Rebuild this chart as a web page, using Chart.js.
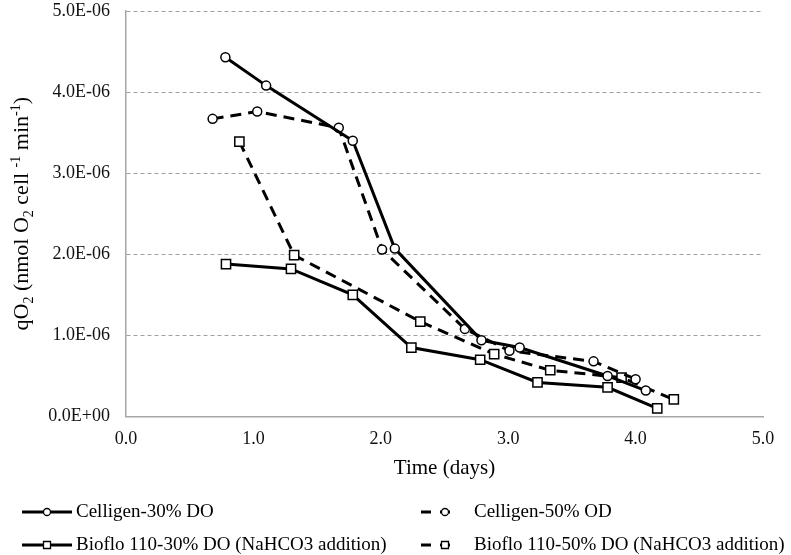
<!DOCTYPE html>
<html lang="en">
<head>
  <meta charset="UTF-8" />
  <title>qO2 vs time</title>
  <style>
    body {
      margin: 0;
      padding: 0;
      background: #fff;
    }
    #wrap {
      width: 791px;
      height: 555px;
    }
  </style>
</head>
<body>
  <div id="wrap">
    <canvas id="chart" width="791" height="555"></canvas>
  </div>

  <script src="https://cdn.jsdelivr.net/npm/chart.js"></script>
  <script>
    // values, qO2 in units of 1E-06
    const seriesNames = [
      "Celligen-30% DO",
      "Celligen-50% OD",
      "Bioflo 110-30% DO (NaHCO3 addition)",
      "Bioflo 110-50% DO (NaHCO3 addition)"
    ];

    const daysC30 = [0.78, 1.10, 1.78, 2.11, 2.79, 3.09, 3.78, 4.08];
    const qo2C30  = [4.43, 4.08, 3.40, 2.07, 0.94, 0.85, 0.50, 0.32];

    const daysC50 = [0.68, 1.03, 1.67, 2.01, 2.66, 3.01, 3.67, 4.00];
    const qo2C50  = [3.67, 3.76, 3.56, 2.06, 1.08, 0.81, 0.68, 0.46];

    const daysB30 = [0.785, 1.295, 1.78, 2.24, 2.78, 3.23, 3.78, 4.17];
    const qo2B30  = [1.88, 1.82, 1.50, 0.85, 0.70, 0.42, 0.36, 0.10];

    const daysB50 = [0.89, 1.32, 2.31, 2.89, 3.33, 3.89, 4.30];
    const qo2B50  = [3.39, 1.99, 1.17, 0.77, 0.57, 0.48, 0.21];

    const xTicks = [0, 1, 2, 3, 4, 5];
    const yTicks = [0, 1e-6, 2e-6, 3e-6, 4e-6, 5e-6];

    const FONT = "'Liberation Serif', 'Times New Roman', serif";
    const DASH = [11, 7];

    function toPoints(xs, ys) {
      return xs.map((x, i) => ({ x: x, y: ys[i] * 1e-6 }));
    }

    function sci(v) {
      if (Math.abs(v) < 1e-12) return "0.0E+00";
      const e = Math.floor(Math.log10(Math.abs(v)) + 1e-9);
      const m = v / Math.pow(10, e);
      const ea = Math.abs(e);
      return m.toFixed(1) + "E" + (e < 0 ? "-" : "+") + (ea < 10 ? "0" : "") + ea;
    }

    function makeSet(label, xs, ys, dashed, style) {
      return {
        label: label,
        data: toPoints(xs, ys),
        borderColor: "#000",
        borderWidth: 3,
        borderDash: dashed ? DASH : [],
        pointStyle: style,
        pointRadius: style === "circle" ? 4.5 : 6.5,
        pointHoverRadius: style === "circle" ? 4.5 : 6.5,
        pointBackgroundColor: "#fff",
        pointBorderColor: "#000",
        pointBorderWidth: 1.5,
        tension: 0,
        fill: false
      };
    }

    // y axis title with sub- and superscripts, x title and the legend
    const extras = {
      id: "extras",
      afterDraw(chart) {
        const ctx = chart.ctx;
        const area = chart.chartArea;
        ctx.save();
        ctx.fillStyle = "#000";

        // y title
        const big = "22px " + FONT;
        const small = "14px " + FONT;
        const parts = [
          ["qO", 0], ["2", 1], [" (nmol O", 0], ["2", 1], [" cell ", 0],
          ["-1", -1], [" min", 0], ["-1", -1], [")", 0]
        ];
        let total = 0;
        parts.forEach(p => {
          ctx.font = p[1] === 0 ? big : small;
          total += ctx.measureText(p[0]).width;
        });
        ctx.translate(28, (area.top + area.bottom) / 2);
        ctx.rotate(-Math.PI / 2);
        ctx.textBaseline = "alphabetic";
        let x = -total / 2;
        parts.forEach(p => {
          ctx.font = p[1] === 0 ? big : small;
          const dy = p[1] === 1 ? 5 : (p[1] === -1 ? -8 : 0);
          ctx.fillText(p[0], x, 0 + dy);
          x += ctx.measureText(p[0]).width;
        });
        ctx.setTransform(1, 0, 0, 1, 0, 0);

        // x title
        ctx.font = "21px " + FONT;
        ctx.textAlign = "center";
        ctx.textBaseline = "middle";
        ctx.fillText("Time (days)", (area.left + area.right) / 2, 468);

        // legend
        const rows = [512, 545];
        const items = [
          { ds: 0, x1: 22, x2: 72, tx: 76, y: rows[0] },
          { ds: 1, x1: 421, x2: 451, tx: 474, y: rows[0] },
          { ds: 2, x1: 22, x2: 72, tx: 76, y: rows[1] },
          { ds: 3, x1: 421, x2: 451, tx: 474, y: rows[1] }
        ];
        ctx.textAlign = "left";
        ctx.font = "19px " + FONT;
        items.forEach(it => {
          const ds = chart.data.datasets[it.ds];
          ctx.strokeStyle = "#000";
          ctx.lineWidth = 3;
          ctx.setLineDash(ds.borderDash.length ? [10, 9] : []);
          ctx.beginPath();
          ctx.moveTo(it.x1, it.y);
          ctx.lineTo(it.x2, it.y);
          ctx.stroke();
          ctx.setLineDash([]);
          const cx = ds.borderDash.length ? it.x1 + 24 : (it.x1 + it.x2) / 2;
          ctx.lineWidth = 1.3;
          ctx.fillStyle = "#fff";
          ctx.beginPath();
          if (ds.pointStyle === "circle") {
            ctx.arc(cx, it.y, 3.5, 0, Math.PI * 2);
          } else {
            ctx.rect(cx - 3.5, it.y - 3.5, 7, 7);
          }
          ctx.fill();
          ctx.stroke();
          ctx.fillStyle = "#000";
          ctx.textBaseline = "middle";
          ctx.fillText(ds.label, it.tx, it.y);
        });
        ctx.restore();
      }
    };

    new Chart(document.getElementById("chart"), {
      type: "line",
      data: {
        datasets: [
          makeSet(seriesNames[0], daysC30, qo2C30, false, "circle"),
          makeSet(seriesNames[1], daysC50, qo2C50, true, "circle"),
          makeSet(seriesNames[2], daysB30, qo2B30, false, "rect"),
          makeSet(seriesNames[3], daysB50, qo2B50, true, "rect")
        ]
      },
      options: {
        responsive: false,
        animation: false,
        events: [],
        layout: { padding: { left: 0, top: 11, right: 28, bottom: 0 } },
        plugins: {
          legend: { display: false },
          title: { display: false },
          tooltip: { enabled: false }
        },
        scales: {
          x: {
            type: "linear",
            min: xTicks[0],
            max: xTicks[xTicks.length - 1],
            afterBuildTicks: s => { s.ticks = xTicks.map(v => ({ value: v })); },
            afterFit: s => {
              s.height = 138.5;
              s.paddingLeft = 0;
              s.paddingRight = 0;
            },
            ticks: {
              callback: v => Number(v).toFixed(1),
              font: { family: FONT, size: 18 },
              color: "#111",
              padding: 12,
              maxRotation: 0
            },
            grid: { display: false, drawTicks: false },
            border: { display: true, color: "#a6a6a6", width: 1.5 }
          },
          y: {
            min: yTicks[0],
            max: yTicks[yTicks.length - 1],
            afterBuildTicks: s => { s.ticks = yTicks.map(v => ({ value: v })); },
            afterFit: s => {
              s.width = 126;
              s.paddingTop = 0;
              s.paddingBottom = 0;
            },
            ticks: {
              callback: v => sci(v),
              font: { family: FONT, size: 18 },
              color: "#111",
              padding: 16
            },
            grid: { color: "#a0a0a0", lineWidth: 1, drawTicks: false },
            border: { display: true, color: "#a6a6a6", width: 1.5, dash: [4, 3] }
          }
        }
      },
      plugins: [extras]
    });
  </script>
</body>
</html>
